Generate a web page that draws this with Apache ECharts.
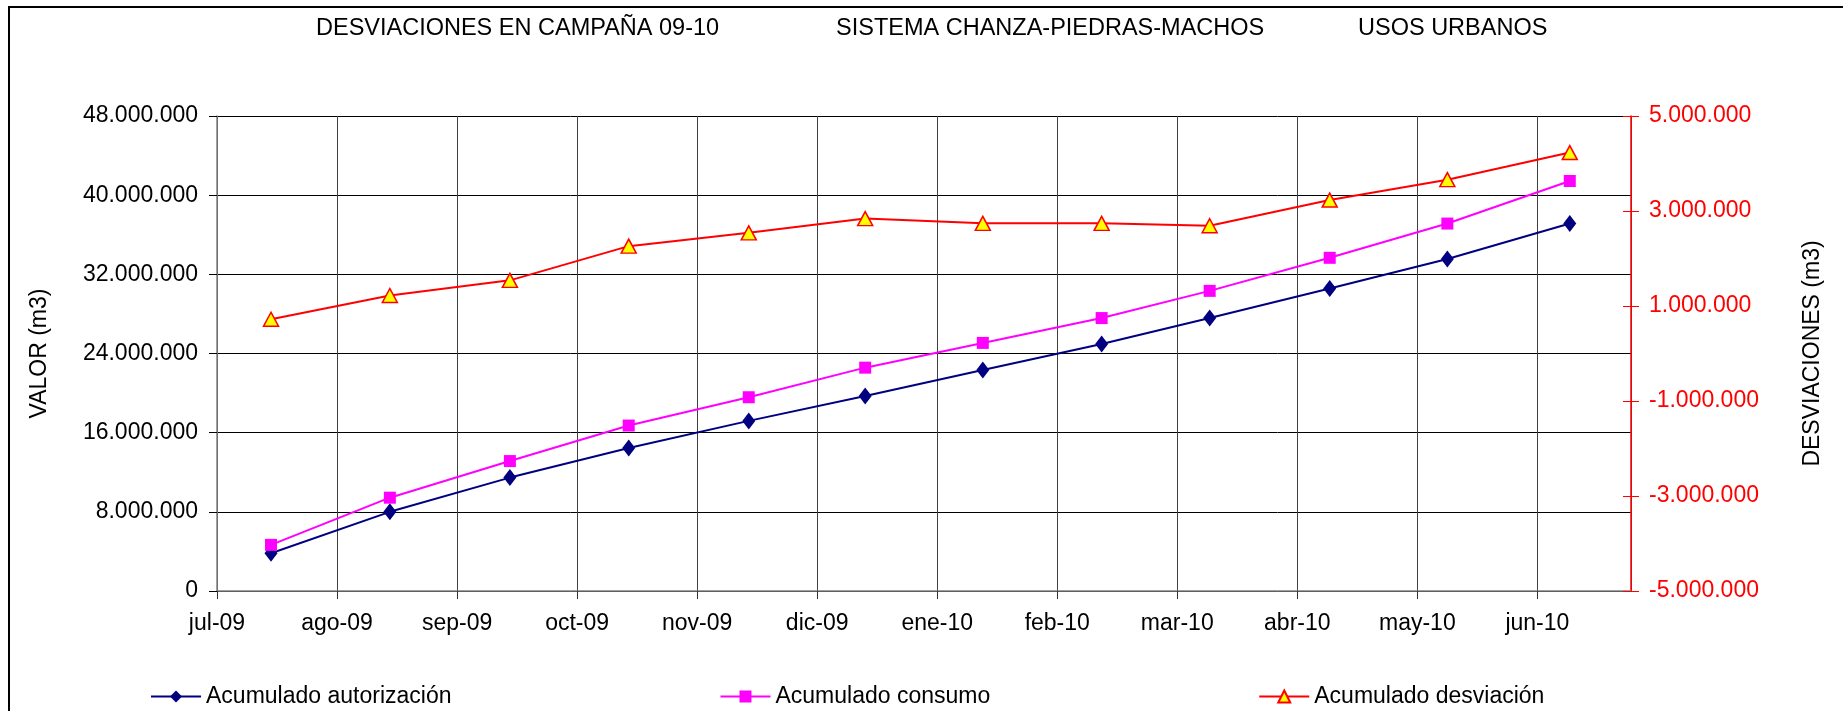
<!DOCTYPE html>
<html>
<head>
<meta charset="utf-8">
<title>Desviaciones campaña 09-10</title>
<script src="https://cdn.jsdelivr.net/npm/echarts@6/dist/echarts.min.js"></script>
<style>
    html, body { margin: 0; padding: 0; background: #fff; }
    #container0 { width: 1843px; height: 711px; }
</style>
</head>
<body>
<div id="container0"></div>
<script>
// meses del eje X
var meses = ['jul-09','ago-09','sep-09','oct-09','nov-09','dic-09','ene-10','feb-10','mar-10','abr-10','may-10','jun-10'];
// posicion de cada dato (meses desde jul-09)
var fechas = [0.45, 1.44, 2.44, 3.43, 4.43, 5.40, 6.38, 7.37, 8.27, 9.27, 10.25, 11.27];
var autorizacion = [3820000, 8000000, 11460000, 14450000, 17190000, 19700000, 22330000, 24960000, 27580000, 30570000, 33550000, 37130000];
var consumo = [4660000, 9430000, 13130000, 16720000, 19580000, 22570000, 25070000, 27580000, 30330000, 33670000, 37130000, 41430000];
var desviacion = [720000, 1220000, 1540000, 2260000, 2540000, 2840000, 2740000, 2740000, 2690000, 3230000, 3660000, 4230000];
var ticksDesv = [-5000000, -3000000, -1000000, 1000000, 3000000, 5000000];

var fuente = 'Liberation Sans, Arial, sans-serif';

function miles(v) {
    return String(v).replace(/\B(?=(\d{3})+(?!\d))/g, '.');
}
function pares(xs, ys) {
    return ys.map(function (y, i) { return [xs[i], y]; });
}

var opt_chart_0 = {
    animation: false,
    textStyle: { fontFamily: fuente, color: '#000' },
    title: [
        { text: 'DESVIACIONES EN CAMPAÑA 09-10', left: 311, top: 12, textStyle: { fontSize: 23.5, fontWeight: 'normal', color: '#000', fontFamily: fuente } },
        { text: 'SISTEMA CHANZA-PIEDRAS-MACHOS', left: 831, top: 12, textStyle: { fontSize: 23.5, fontWeight: 'normal', color: '#000', fontFamily: fuente } },
        { text: 'USOS URBANOS', left: 1353, top: 12, textStyle: { fontSize: 23.5, fontWeight: 'normal', color: '#000', fontFamily: fuente } }
    ],
    graphic: [
        {
            type: 'rect',
            shape: { x: 9, y: 7, width: 2000, height: 2000 },
            style: { fill: 'none', stroke: '#000', lineWidth: 2 },
            silent: true
        }
    ],
    legend: {
        left: 145,
        top: 680,
        itemWidth: 50,
        itemHeight: 15,
        itemGap: 268,
        textStyle: { fontSize: 23, color: '#000', fontFamily: fuente },
        data: ['Acumulado autorización', 'Acumulado consumo', 'Acumulado desviación']
    },
    grid: {
        left: 217,
        right: 212,
        top: 116,
        bottom: 120
    },
    xAxis: {
        type: 'value',
        min: 0,
        max: 11.78,
        interval: 1,
        axisLine: { lineStyle: { color: '#808080', width: 1.5 } },
        axisTick: { show: true, length: 8, lineStyle: { color: '#333' } },
        axisLabel: {
            fontSize: 23,
            color: '#000',
            margin: 21,
            showMaxLabel: false,
            formatter: function (v) {
                return Math.round(v) === v && meses[v] ? meses[v] : '';
            }
        },
        splitLine: { show: true, lineStyle: { color: '#404040', width: 1 } }
    },
    yAxis: [
        {
            type: 'value',
            min: 0,
            max: 48000000,
            interval: 8000000,
            name: 'VALOR (m3)',
            nameLocation: 'middle',
            nameRotate: 90,
            nameGap: 166,
            nameTextStyle: { fontSize: 23, color: '#000', fontFamily: fuente },
            axisLine: { show: true, lineStyle: { color: '#808080', width: 1.5 } },
            axisTick: { show: true, length: 8, lineStyle: { color: '#000' } },
            axisLabel: { fontSize: 23, color: '#000', margin: 19, formatter: miles },
            splitLine: { show: true, lineStyle: { color: '#000', width: 1 } }
        },
        {
            type: 'value',
            position: 'right',
            min: -5000000,
            max: 5000000,
            name: 'DESVIACIONES (m3)',
            nameLocation: 'middle',
            nameRotate: 90,
            nameGap: 170,
            nameTextStyle: { fontSize: 23, color: '#000', fontFamily: fuente },
            axisLine: { show: true, lineStyle: { color: '#ff0000', width: 1.5 } },
            axisTick: { show: true, length: 8, customValues: ticksDesv, lineStyle: { color: '#ff0000' } },
            axisLabel: { fontSize: 23, color: '#ff0000', margin: 18, customValues: ticksDesv, formatter: miles },
            splitLine: { show: false }
        },
        {
            // marcas hacia dentro del eje derecho
            type: 'value',
            position: 'right',
            min: -5000000,
            max: 5000000,
            axisLine: { show: false },
            axisTick: { show: true, inside: true, length: 8, customValues: ticksDesv, lineStyle: { color: '#ff0000' } },
            axisLabel: { show: false },
            splitLine: { show: false }
        }
    ],
    series: [
        {
            name: 'Acumulado autorización',
            type: 'line',
            yAxisIndex: 0,
            symbol: 'diamond',
            symbolSize: [13, 17],
            lineStyle: { color: '#000080', width: 2 },
            itemStyle: { color: '#000080' },
            data: pares(fechas, autorizacion)
        },
        {
            name: 'Acumulado consumo',
            type: 'line',
            yAxisIndex: 0,
            symbol: 'rect',
            symbolSize: 12,
            lineStyle: { color: '#ff00ff', width: 2 },
            itemStyle: { color: '#ff00ff' },
            data: pares(fechas, consumo)
        },
        {
            name: 'Acumulado desviación',
            type: 'line',
            yAxisIndex: 1,
            symbol: 'triangle',
            symbolSize: [15, 14],
            lineStyle: { color: '#ff0000', width: 2 },
            itemStyle: { color: '#ffff00', borderColor: '#ff0000', borderWidth: 1.5 },
            data: pares(fechas, desviacion)
        }
    ]
};

var chart_0 = echarts.init(document.getElementById('container0'));
chart_0.setOption(opt_chart_0);
</script>
</body>
</html>
